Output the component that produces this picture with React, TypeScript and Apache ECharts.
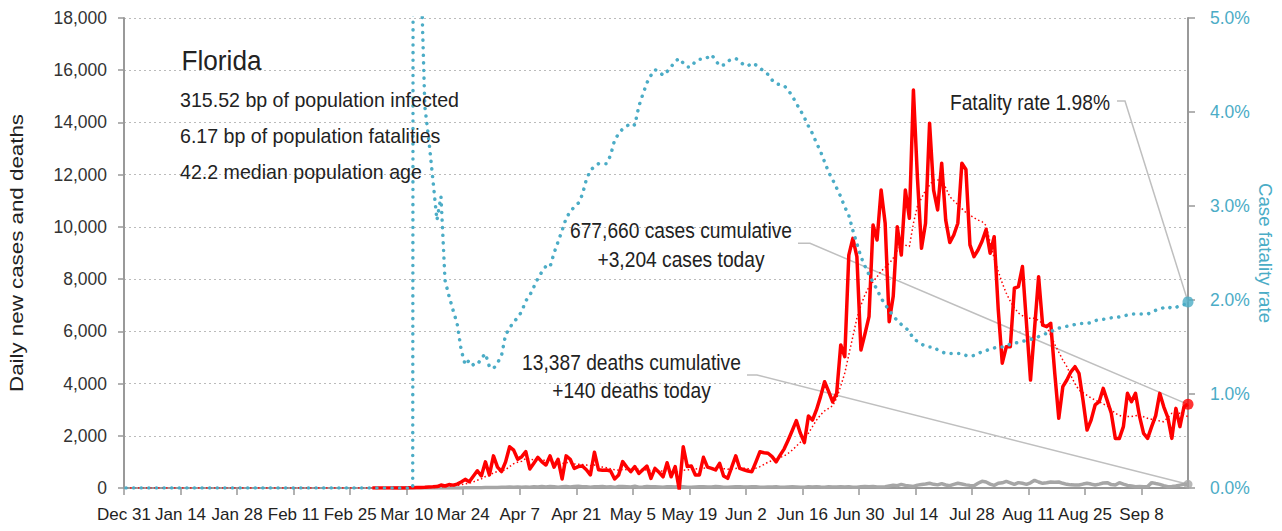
import React, { useEffect, useRef } from "react";
import * as echarts from "echarts";

const FONT = "'Liberation Sans', Arial, sans-serif";

// Day 0 = Dec 31, 2019; the last day (263) is Sep 19, 2020
const FIRST_DATE_UTC = Date.UTC(2019, 11, 31);
const MONTHS = ["Jan", "Feb", "Mar", "Apr", "May", "Jun", "Jul", "Aug", "Sep", "Oct", "Nov", "Dec"];
const tickDays = [0, 14, 28, 42, 56, 70, 84, 98, 112, 126, 140, 154, 168, 182, 196, 210, 224, 238, 252];
const lastDay = 263;

// Daily new cases, starting Mar 1 (day 61)
const casesFirstDay = 61;
const dailyCases = [
  // Mar
  2, 0, 1, 0, 1, 3, 3, 4, 3, 5, 6, 16, 19, 26, 39, 44, 56, 112, 76, 130, 110, 150, 230, 330, 240, 450, 660, 460, 1000, 500, 1230,
  // Apr
  800, 630, 1000, 1580, 1450, 1100, 1200, 1390, 730, 950, 1175, 1000, 880, 1230, 800, 1100, 345, 1230, 1100, 750, 820, 840, 700, 500, 1370, 700, 680, 690, 650, 345,
  // May
  500, 1010, 800, 625, 820, 560, 700, 840, 370, 750, 600, 430, 970, 430, 820, -50, 1580, 820, 840, 500, 500, 1175, 800, 750, 690, 945, 460, 370, 800, 1230, 750,
  // Jun
  700, 650, 625, 1000, 1390, 1350, 1330, 1200, 1000, 1260, 1500, 1840, 2200, 2580, 2100, 1740, 2760, 2600, 3000, 3500, 4070, 3700, 3300, 3630, 5480, 5030, 8920, 9560, 8860, 5285,
  // Jul
  5900, 6560, 10070, 9500, 11410, 10140, 6370, 7340, 10010, 8920, 11410, 10330, 15240, 11860, 9180, 10140, 13970, 11410, 10650, 12440, 10260, 9400, 9690, 10140, 12440, 12200, 9310, 8860, 9115, 9450, 9900,
  // Aug
  8990, 9625, 6850, 4780, 5410, 5410, 7650, 7710, 8480, 6300, 4135, 6100, 8090, 6240, 6180, 6310, 4400, 2670, 3880, 4135, 4450, 4645, 4390, 3360, 2220, 2600, 3180, 3305, 3815, 3345, 2860,
  // Sep
  1900, 1900, 2350, 3625, 3305, 3625, 2740, 2095, 1900, 2350, 2770, 3625, 3110, 2700, 1900, 3050, 2350, 3110, 3204,
];

// 7-day average of new cases (dotted red), from Dec 31
const avgFirstDay = 0;
const avgCases = [
  // Dec 31 - Mar 10
  0, 0, 0, 0, 0, 0, 0, 0, 0, 0, 0, 0, 0, 0, 0, 0, 0, 0, 0, 0,
  0, 0, 0, 0, 0, 0, 0, 0, 0, 0, 0, 0, 0, 0, 0, 0, 0, 0, 0, 0,
  0, 0, 0, 0, 0, 0, 0, 0, 0, 0, 0, 0, 0, 0, 0, 0, 0, 0, 0, 0,
  0, 0, 0, 0, 0, 0, 0, 0, 0, 0, 0,
  // Mar 11 - Mar 31
  2, 4, 7, 10, 15, 20, 28, 45, 55, 70, 85, 100, 125, 160, 185, 230, 300, 350, 440, 480, 580,
  // Apr
  630, 650, 700, 820, 930, 990, 1020, 1130, 1110, 1080, 1110, 1060, 1060, 1050, 980, 1010, 940, 970, 980, 920, 910, 900, 880, 850, 880, 820, 800, 780, 740, 700,
  // May
  680, 710, 700, 720, 740, 720, 700, 690, 670, 680, 660, 650, 660, 620, 630, 580, 680, 690, 720, 730, 740, 760, 780, 770, 760, 770, 740, 720, 730, 750, 760,
  // Jun
  760, 740, 730, 760, 820, 900, 990, 1050, 1110, 1170, 1230, 1330, 1450, 1600, 1750, 1900, 2100, 2350, 2600, 2800, 2950, 3050, 3150, 3450, 3900, 4400, 5100, 5800, 6500, 7000,
  // Jul
  7400, 7700, 7900, 8090, 8300, 8450, 8600, 8800, 9100, 9300, 9300, 9250, 10140, 10800, 11100, 11400, 11600, 11800, 11800, 11800, 11500, 11160, 11000, 10850, 10700, 10550, 10450, 10350, 10260, 10200, 10050,
  // Aug
  9400, 8800, 8300, 7850, 7460, 7150, 6900, 6700, 6600, 6500, 6500, 6500, 6420, 6300, 6180, 5850, 5500, 5200, 4900, 4650, 4300, 4000, 3750, 3650, 3550, 3450, 3370, 3300, 3220, 3150, 3000,
  // Sep
  2860, 2780, 2735, 2735, 2735, 2770, 2800, 2730, 2670, 2630, 2600, 2570, 2540, 2700, 2860, 2860, 2860, 2800, 2735,
];

// Daily new deaths, from Mar 6 (day 66)
const deathsFirstDay = 66;
const dailyDeaths = [
  // Mar 6 - Mar 31
  0, 0, 0, 0, 0, 0,
  2, 0, 1, 2, 1, 3, 1, 4, 2, 5, 4, 3, 6, 5, 9, 10, 12, 18, 15, 22,
  // Apr
  20, 30, 25, 35, 28, 40, 27, 42, 30, 48, 35, 58, 40, 60, 50, 30, 45, 55, 40, 60, 70, 50, 45, 30, 50, 45, 60, 40, 50, 25,
  // May
  55, 60, 50, 40, 65, 30, 35, 55, 45, 50, 40, 25, 45, 50, 40, 60, 45, 30, 25, 40, 50, 45, 35, 40, 55, 45, 30, 25, 40, 45, 50,
  // Jun
  35, 40, 48, 45, 30, 25, 35, 40, 45, 30, 25, 40, 45, 40, 30, 25, 45, 40, 50, 35, 30, 45, 40, 35, 45, 40, 50, 30, 25, 45,
  // Jul
  55, 50, 60, 40, 35, 50, 80, 110, 90, 140, 100, 80, 60, 110, 130, 150, 180, 140, 120, 170, 115, 90, 140, 180, 150, 120, 100, 90, 180, 255, 230,
  // Aug
  150, 100, 180, 200, 255, 200, 140, 205, 180, 140, 200, 295, 230, 180, 200, 230, 220, 230, 180, 140, 120, 115, 115, 150, 180, 150, 115, 150, 190, 205, 130,
  // Sep
  115, 205, 150, 100, 80, 50, 60, 50, 60, 205, 170, 140, 90, 50, 60, 75, 110, 140, 140,
];

// Case fatality rate (%), from Dec 31
const rateFirstDay = 0;
const fatalityRate = [
  // Dec 31 - Mar 11
  0, 0, 0, 0, 0, 0, 0, 0, 0, 0, 0, 0, 0, 0, 0, 0, 0, 0, 0, 0,
  0, 0, 0, 0, 0, 0, 0, 0, 0, 0, 0, 0, 0, 0, 0, 0, 0, 0, 0, 0,
  0, 0, 0, 0, 0, 0, 0, 0, 0, 0, 0, 0, 0, 0, 0, 0, 0, 0, 0, 0,
  0, 0, 0, 0, 0, 0, 0, 0, 0, 0, 0, 0,
  // Mar 12 - Mar 31
  60, 5.55, 4.06, 3.7, 3.28, 2.85, 3.1, 2.21, 2.04, 1.89, 1.75, 1.47, 1.31, 1.36, 1.31, 1.31, 1.38, 1.43, 1.29, 1.27,
  // Apr
  1.33, 1.41, 1.63, 1.7, 1.77, 1.81, 1.88, 1.99, 2.05, 2.14, 2.23, 2.3, 2.36, 2.35, 2.5, 2.62, 2.74, 2.87, 2.94, 2.99, 3.03, 3.12, 3.28, 3.38, 3.42, 3.45, 3.45, 3.45, 3.54, 3.7,
  // May
  3.77, 3.82, 3.85, 3.88, 3.86, 4.06, 4.19, 4.31, 4.39, 4.45, 4.43, 4.39, 4.43, 4.48, 4.54, 4.57, 4.52, 4.48, 4.48, 4.54, 4.56, 4.56, 4.58, 4.61, 4.55, 4.49, 4.5, 4.54, 4.56, 4.57, 4.54,
  // Jun
  4.5, 4.49, 4.52, 4.5, 4.47, 4.43, 4.4, 4.34, 4.3, 4.29, 4.28, 4.23, 4.17, 4.09, 4.02, 3.94, 3.85, 3.77, 3.67, 3.58, 3.47, 3.36, 3.28, 3.19, 3.1, 2.99, 2.9, 2.74, 2.6, 2.46,
  // Jul
  2.36, 2.27, 2.19, 2.11, 2.02, 1.95, 1.89, 1.83, 1.78, 1.74, 1.71, 1.66, 1.59, 1.56, 1.53, 1.51, 1.5, 1.5, 1.47, 1.45, 1.43, 1.43, 1.43, 1.43, 1.43, 1.41, 1.4, 1.41, 1.43, 1.45, 1.46,
  // Aug
  1.48, 1.49, 1.5, 1.5, 1.51, 1.53, 1.54, 1.55, 1.56, 1.57, 1.58, 1.59, 1.61, 1.63, 1.645, 1.66, 1.69, 1.7, 1.71, 1.72, 1.725, 1.74, 1.75, 1.75, 1.75, 1.76, 1.78, 1.79, 1.795, 1.8, 1.81,
  // Sep
  1.81, 1.82, 1.83, 1.84, 1.85, 1.85, 1.85, 1.85, 1.85, 1.87, 1.89, 1.9, 1.92, 1.93, 1.91, 1.92, 1.94, 1.95, 1.98,
];

const titleText = "Florida";
const infoLines = [
  "315.52 bp of population infected",
  "6.17 bp of population fatalities",
  "42.2 median population age",
];
const casesNote = ["677,660 cases cumulative", "+3,204 cases today"];
const deathsNote = ["13,387 deaths cumulative", "+140 deaths today"];
const rateNote = "Fatality rate 1.98%";
const leftAxisName = "Daily new cases and deaths";
const rightAxisName = "Case fatality rate";

const RED = "#ff0000";
const TEAL = "#4bacc6";
const GREY = "#a6a6a6";
const AXIS = "#999999";
const LEADER = "#bfbfbf";
const INK = "#222222";

function dayLabel(d: number): string {
  if (Math.abs(d - Math.round(d)) > 1e-6 || Math.round(d) % 14 !== 0) return "";
  const dt = new Date(FIRST_DATE_UTC + Math.round(d) * 86400000);
  return MONTHS[dt.getUTCMonth()] + " " + dt.getUTCDate();
}

// each daily value is drawn at the middle of its day
function toPoints(first: number, arr: (number | null)[]) {
  return arr.map((v, i) => [first + i + 0.5, v]);
}

function lastPoint(first: number, arr: number[]) {
  return [first + arr.length - 1 + 0.5, arr[arr.length - 1]];
}

let measureCtx: CanvasRenderingContext2D | null = null;
function textWidth(text: string, size: number): number {
  if (!measureCtx) measureCtx = document.createElement("canvas").getContext("2d");
  if (!measureCtx) return text.length * size * 0.5;
  measureCtx.font = `${size}px ${FONT}`;
  return measureCtx.measureText(text).width;
}

export default function App() {
  const ref = useRef<HTMLDivElement>(null);

  useEffect(() => {
    document.body.style.margin = "0";
    if (!ref.current) return;
    const chart = echarts.init(ref.current, null, { renderer: "svg" });

    const option: any = {
      animation: false,
      backgroundColor: "#ffffff",
      textStyle: { fontFamily: FONT },
      grid: { left: 124, right: 94, top: 18, bottom: 43, containLabel: false, outerBoundsMode: "none" },
      xAxis: {
        type: "value",
        min: 0,
        max: lastDay + 0.5,
        interval: 14,
        axisLine: { show: true, onZero: false, lineStyle: { color: AXIS, width: 2 } },
        axisTick: { show: true, length: 7, customValues: tickDays, lineStyle: { color: AXIS, width: 1.5 } },
        axisLabel: {
          customValues: tickDays,
          formatter: (v: number) => dayLabel(v),
          color: INK,
          fontSize: 17,
          margin: 18,
          fontFamily: FONT,
        },
        splitLine: { show: false },
      },
      yAxis: [
        {
          type: "value",
          min: 0,
          max: 18000,
          interval: 2000,
          position: "left",
          axisLine: { show: true, onZero: false, lineStyle: { color: AXIS, width: 2 } },
          axisTick: { show: true, length: 6, lineStyle: { color: AXIS, width: 1.5 } },
          axisLabel: {
            formatter: (v: number) => v.toLocaleString("en-US"),
            color: "#333333",
            fontSize: 17.5,
            margin: 17,
            fontFamily: FONT,
          },
          splitLine: { show: true, lineStyle: { color: "#bbbbbb", width: 1, type: [2, 3] } },
        },
        {
          type: "value",
          min: 0,
          max: 5,
          interval: 1,
          position: "right",
          axisLine: { show: true, onZero: false, lineStyle: { color: AXIS, width: 2 } },
          axisTick: { show: true, length: 7, lineStyle: { color: AXIS, width: 1.5 } },
          axisLabel: {
            formatter: (v: number) => v.toFixed(1) + "%",
            color: TEAL,
            fontSize: 17.5,
            margin: 22,
            fontFamily: FONT,
          },
          splitLine: { show: false },
        },
      ],
      series: [
        {
          name: "Daily deaths",
          type: "line",
          yAxisIndex: 0,
          data: toPoints(deathsFirstDay, dailyDeaths),
          symbol: "none",
          lineStyle: { color: GREY, width: 3.5 },
          z: 2,
        },
        {
          name: "Daily cases",
          type: "line",
          yAxisIndex: 0,
          data: toPoints(casesFirstDay, dailyCases),
          symbol: "none",
          lineStyle: { color: RED, width: 3.5, join: "round" },
          z: 3,
        },
        {
          name: "Cases 7-day average",
          type: "line",
          yAxisIndex: 0,
          data: toPoints(avgFirstDay, avgCases),
          symbol: "none",
          lineStyle: { color: RED, width: 1.5, type: [1.5, 2.5] },
          z: 4,
        },
        {
          name: "Case fatality rate",
          type: "line",
          yAxisIndex: 1,
          data: toPoints(rateFirstDay, fatalityRate),
          symbol: "none",
          lineStyle: { color: TEAL, width: 3.5, type: [0.1, 7.5], cap: "round" },
          z: 5,
        },
        {
          name: "cases end",
          type: "scatter",
          yAxisIndex: 0,
          data: [lastPoint(casesFirstDay, dailyCases)],
          symbolSize: 11,
          itemStyle: { color: RED },
          z: 6,
        },
        {
          name: "deaths end",
          type: "scatter",
          yAxisIndex: 0,
          data: [lastPoint(deathsFirstDay, dailyDeaths)],
          symbolSize: 9,
          itemStyle: { color: GREY },
          z: 6,
        },
        {
          name: "rate end",
          type: "scatter",
          yAxisIndex: 1,
          data: [lastPoint(rateFirstDay, fatalityRate)],
          symbolSize: 11,
          itemStyle: { color: TEAL },
          z: 6,
        },
      ],
    };
    chart.setOption(option);

    const casesEnd = chart.convertToPixel({ xAxisIndex: 0, yAxisIndex: 0 }, lastPoint(casesFirstDay, dailyCases)) as number[];
    const deathsEnd = chart.convertToPixel({ xAxisIndex: 0, yAxisIndex: 0 }, lastPoint(deathsFirstDay, dailyDeaths)) as number[];
    const rateEnd = chart.convertToPixel({ xAxisIndex: 0, yAxisIndex: 1 }, lastPoint(rateFirstDay, fatalityRate)) as number[];

    // condensed look: scale each text group horizontally to the reference's width
    const titleScale = 80 / textWidth(titleText, 28);
    const infoScale = 279 / textWidth(infoLines[0], 20);
    const noteScale = 222 / textWidth(casesNote[0], 22);
    const leftNameScale = 278 / textWidth(leftAxisName, 18.5);
    const rightNameScale = 140 / textWidth(rightAxisName, 18.5);

    const txt = (
      text: string,
      x: number,
      y: number,
      size: number,
      align: string,
      scaleX: number,
      fill: string = INK,
      rotation: number = 0
    ) => ({
      type: "text",
      x,
      y,
      scaleX,
      rotation,
      z: 10,
      style: { text, fill, fontSize: size, fontFamily: FONT, align, verticalAlign: "middle" },
    });
    const leader = (pts: number[][]) => ({
      type: "polyline",
      z: 1,
      shape: { points: pts },
      style: { stroke: LEADER, lineWidth: 1.5, fill: "none" },
    });

    chart.setOption({
      graphic: [
        txt(titleText, 181.5, 60.3, 28, "left", titleScale),
        txt(infoLines[0], 180, 100, 20, "left", infoScale),
        txt(infoLines[1], 180, 135.8, 20, "left", infoScale),
        txt(infoLines[2], 180, 171.7, 20, "left", infoScale),
        txt(casesNote[0], 681, 230.5, 22, "center", noteScale),
        txt(casesNote[1], 681, 259.2, 22, "center", noteScale),
        txt(deathsNote[0], 631.5, 362, 22, "center", noteScale),
        txt(deathsNote[1], 631.5, 390.5, 22, "center", noteScale),
        txt(rateNote, 1110, 101.7, 22, "right", noteScale),
        txt(leftAxisName, 16.7, 253, 18.5, "center", leftNameScale, INK, Math.PI / 2),
        txt(rightAxisName, 1265, 253, 18.5, "center", rightNameScale, TEAL, -Math.PI / 2),
        leader([[798, 243.3], [810, 243.3], casesEnd]),
        leader([[747, 375], [757, 375], deathsEnd]),
        leader([[1117, 101], [1125, 101], rateEnd]),
      ],
    });

    return () => chart.dispose();
  }, []);

  return <div ref={ref} style={{ width: 1282, height: 531 }} />;
}
